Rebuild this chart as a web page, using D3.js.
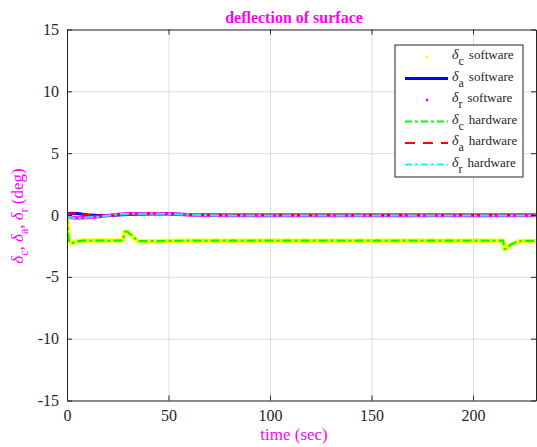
<!DOCTYPE html>
<html><head><meta charset="utf-8">
<script src="https://cdn.jsdelivr.net/npm/d3@7"></script>
<style>body{margin:0;background:#fff}svg{display:block}text{font-family:'Liberation Serif','Times New Roman',serif}</style>
</head><body>
<script>
// ---- data ----
const xTicks = [0, 50, 100, 150, 200];
const yTicks = [-15, -10, -5, 0, 5, 10, 15];
const tC = [0, 0.3, 1, 2, 4, 8, 27.5, 28.5, 29.8, 35, 60, 120, 214.8, 215.5, 216.8, 218.5, 221, 224, 231];
const dC = [0, -1.0, -2.1, -2.3, -2.15, -2.07, -2.07, -1.35, -1.35, -2.12, -2.08, -2.08, -2.08, -2.75, -2.7, -2.4, -2.2, -2.1, -2.1];
const tA = [0, 2, 5, 10, 15, 20, 30, 40, 50, 60, 80, 231];
const dA = [0.1, 0.15, 0.12, 0.02, -0.05, -0.05, 0.05, 0.1, 0.1, 0.02, 0, 0];
const tR = [0, 2, 5, 10, 15, 20, 25, 30, 40, 50, 60, 80, 231];
const dR = [0, -0.2, -0.25, -0.2, -0.15, -0.05, 0.05, 0.1, 0.1, 0.1, 0.02, -0.05, -0.05];
const legendLabels = [["c","software"],["a","software"],["r","software"],["c","hardware"],["a","hardware"],["r","hardware"]];

const W = 537, H = 447;
const FF = "'Liberation Serif','Times New Roman',serif";
const m = {l: 67, r: 1, t: 29.5, b: 46.5};
const svg = d3.select("body").append("svg").attr("width", W).attr("height", H);
const x = d3.scaleLinear().domain([0, 231]).range([m.l, W - m.r]);
const y = d3.scaleLinear().domain([-15, 15]).range([H - m.b, m.t]);
const pw = W - m.r - m.l, ph = H - m.b - m.t;

// grid
svg.append("g").attr("transform", `translate(0,${H - m.b})`)
  .call(d3.axisBottom(x).tickValues(xTicks).tickSize(-ph).tickFormat(""))
  .call(g => { g.select(".domain").remove(); g.selectAll("line").attr("stroke", "#dcdcdc"); });
svg.append("g").attr("transform", `translate(${m.l},0)`)
  .call(d3.axisLeft(y).tickValues(yTicks).tickSize(-pw).tickFormat(""))
  .call(g => { g.select(".domain").remove(); g.selectAll("line").attr("stroke", "#dcdcdc"); });

// series
svg.append("defs").append("clipPath").attr("id", "c").append("rect")
  .attr("x", m.l).attr("y", m.t).attr("width", pw).attr("height", ph);
const plot = svg.append("g").attr("clip-path", "url(#c)");
const line = d3.line().x(d => x(d[0])).y(d => y(d[1]));
const zip = (a, b) => a.map((t, i) => [t, b[i]]);
const series = [
  {d: zip(tC, dC), color: "#ffff00", w: 4.5, dash: null},
  {d: zip(tA, dA), color: "#0000ff", w: 3, dash: null},
  {d: zip(tR, dR), color: "#ff00ff", w: 3.5, dash: null},
  {d: zip(tC, dC), color: "#00ff00", w: 2.2, dash: "9,3,3,3"},
  {d: zip(tA, dA), color: "#ff0000", w: 2, dash: "9,6"},
  {d: zip(tR, dR), color: "#00ffff", w: 2, dash: "9,3,3,3"}
];
series.forEach(s => {
  plot.append("path").attr("d", line(s.d)).attr("fill", "none")
    .attr("stroke", s.color).attr("stroke-width", s.w)
    .attr("stroke-linejoin", "round").attr("stroke-dasharray", s.dash);
});

// axes (frame + inward ticks)
const axCol = "#262626";
const fmt = d => String(d);
const styleAx = g => { g.attr("font-family", FF).attr("font-size", 16);
  g.selectAll("path,line").attr("stroke", axCol);
  g.selectAll("text").attr("fill", "#262626"); };
svg.append("g").attr("transform", `translate(0,${H - m.b})`)
  .call(d3.axisBottom(x).tickValues(xTicks).tickFormat(fmt).tickSizeInner(-5).tickSizeOuter(0).tickPadding(9)).call(styleAx);
svg.append("g").attr("transform", `translate(0,${m.t})`)
  .call(d3.axisTop(x).tickValues(xTicks).tickSizeInner(-5).tickSizeOuter(0).tickFormat("")).call(styleAx);
svg.append("g").attr("transform", `translate(${m.l},0)`)
  .call(d3.axisLeft(y).tickValues(yTicks).tickFormat(fmt).tickSizeInner(-5).tickSizeOuter(0).tickPadding(8)).call(styleAx);
svg.append("g").attr("transform", `translate(${W - m.r},0)`)
  .call(d3.axisRight(y).tickValues(yTicks).tickSizeInner(-5).tickSizeOuter(0).tickFormat("")).call(styleAx);

// titles
svg.append("text").attr("x", 294).attr("y", 23).attr("text-anchor", "middle").attr("font-family", FF)
  .attr("fill", "#ff00ff").attr("font-weight", "bold").attr("font-size", 16).text("deflection of surface");
svg.append("text").attr("x", 294).attr("y", 440).attr("text-anchor", "middle").attr("font-family", FF)
  .attr("fill", "#ff00ff").attr("font-size", 17).text("time (sec)");
const yl = svg.append("text").attr("transform", "translate(23,216) rotate(-90)").attr("text-anchor", "middle")
  .attr("font-family", FF).attr("fill", "#ff00ff").attr("font-size", 17);
[["c", ", "], ["a", ", "], ["r", " (deg)"]].forEach(([s, tail]) => {
  yl.append("tspan").attr("font-style", "italic").text("δ");
  yl.append("tspan").attr("dy", 5).attr("font-size", 12).text(s);
  yl.append("tspan").attr("dy", -5).text(tail);
});

// legend
const lx = 395, ly = 45, lw = 128, lh = 132;
const lg = svg.append("g").attr("font-family", FF);
lg.append("rect").attr("x", lx).attr("y", ly).attr("width", lw).attr("height", lh)
  .attr("fill", "#fff").attr("stroke", "#262626").attr("stroke-width", 1);
legendLabels.forEach((lab, i) => {
  const cy = ly + 12 + i * 21.5;
  const s = series[i];
  if (i === 0 || i === 2) {
    lg.append("circle").attr("cx", 427).attr("cy", cy).attr("r", 1.5).attr("fill", s.color);
  } else {
    lg.append("line").attr("x1", 405).attr("x2", 448).attr("y1", cy).attr("y2", cy)
      .attr("stroke", s.color).attr("stroke-width", i === 1 ? 3 : 2)
      .attr("stroke-dasharray", i === 4 ? "10,8" : (i === 1 ? null : "7,3,3,3"));
  }
  const t = lg.append("text").attr("x", 452).attr("y", cy + 2).attr("fill", "#262626").attr("font-size", 13);
  t.append("tspan").attr("font-style", "italic").attr("font-size", 14).text("δ");
  t.append("tspan").attr("dy", 6).attr("font-size", 12).text(lab[0]);
  t.append("tspan").attr("dy", -6).attr("dx", 5).text(lab[1]);
});
</script>
</body></html>
